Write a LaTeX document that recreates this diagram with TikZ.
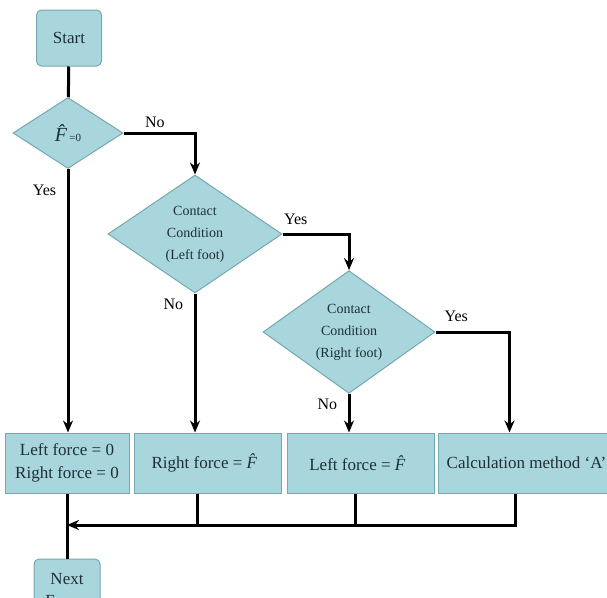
\documentclass[tikz,border=0pt]{standalone}
\usepackage{amsmath}
\usepackage{fontspec}
\setmainfont{Liberation Serif}
\usepackage{tikz}
\usetikzlibrary{
        arrows.meta,
        positioning,
        shapes.geometric
    }
\definecolor{boxfill}{RGB}{168,214,220}
\definecolor{boxline}{RGB}{118,168,176}
\definecolor{boxtext}{RGB}{30,48,55}
\newcommand{\fhat}{\textit{\^{F}}}
\tikzset{>={Stealth[length=12pt,width=10pt]},auto}
\tikzset{
    terminal/.style={draw=boxline,fill=boxfill,rounded corners=5pt,line width=1pt,
        text=boxtext,font=\fontsize{17}{22}\selectfont,align=center},
    decision/.style={diamond,draw=boxline,fill=boxfill,line width=1pt,inner sep=0pt,
        text=boxtext,font=\fontsize{14}{22}\selectfont,align=center},
    process/.style={rectangle,draw=boxline,fill=boxfill,line width=1pt,minimum height=60pt,
        inner sep=2pt,text=boxtext,font=\fontsize{17}{23}\selectfont,align=center},
    flow/.style={line width=3pt},
    answer/.style={font=\fontsize{16}{18}\selectfont,text=black}
}

\begin{document}
\begin{tikzpicture}[x=1pt,y=-1pt]
                \clip (0,0) rectangle (607,597);
                \node[terminal,minimum width=65pt,minimum height=56pt] (start) at (69,38) {Start};
                \node[decision,minimum width=110pt,minimum height=71pt] (zero) at (68,133)
                    {{\fontsize{20}{22}\selectfont\fhat}\kern-5pt{\fontsize{11}{12}\selectfont=0}};
                \node[decision,minimum width=174pt,minimum height=118pt] (left) at (195,234)
                    {Contact\\Condition\\(Left foot)};
                \node[decision,minimum width=172pt,minimum height=115pt] (right) at (349,332)
                    {Contact\\Condition\\(Right foot)};
                \node[process,minimum width=124pt] (both) at (67,463) {Left force = 0\\Right force = 0};
                \node[process,minimum width=147pt] (rforce) [right=4pt of both] {Right force = \fhat};
                \node[process,minimum width=147pt] (lforce) [right=5pt of rforce] {Left force = \fhat};
                \node[process,minimum width=177pt] (calc) [right=3pt of lforce] {Calculation method `A'};
                \node[terminal,minimum width=66pt,minimum height=62pt] (next) [below=65pt of both]
                    {Next\\Frame};
    %			decisions
                \draw[flow] (start) -- (zero);
                \draw[flow,->] (zero.east) -| node[answer,pos=0.22,above=1pt] {No} (left.north);
                \draw[flow,->] (zero.south) -- node[answer,pos=0.08,left=7pt] {Yes} (zero.south |- both.north);
                \draw[flow,->] (left.east) -| node[answer,pos=0.1,above=5pt] {Yes} (right.north);
                \draw[flow,->] (left.south) -- node[answer,pos=0.08,left=7pt] {No} (left.south |- rforce.north);
                \draw[flow,->] (right.east) -| node[answer,pos=0.14,above=6pt] {Yes} ([xshift=-17pt]calc.north);
                \draw[flow,->] (right.south) -- node[answer,pos=0.27,left=7pt] {No} (right.south |- lforce.north);
    %			merge
                \coordinate (merge) at (both.south |- 0,525);
                \draw[flow] (both.south) -- (next.north);
                \draw[flow,->] ([xshift=-11pt]calc.south) |- (merge);
                \draw[flow] ([xshift=-10pt]rforce.south) -- ([xshift=-10pt]rforce.south |- merge);
                \draw[flow] ([xshift=-5pt]lforce.south) -- ([xshift=-5pt]lforce.south |- merge);
\end{tikzpicture}
\end{document}
